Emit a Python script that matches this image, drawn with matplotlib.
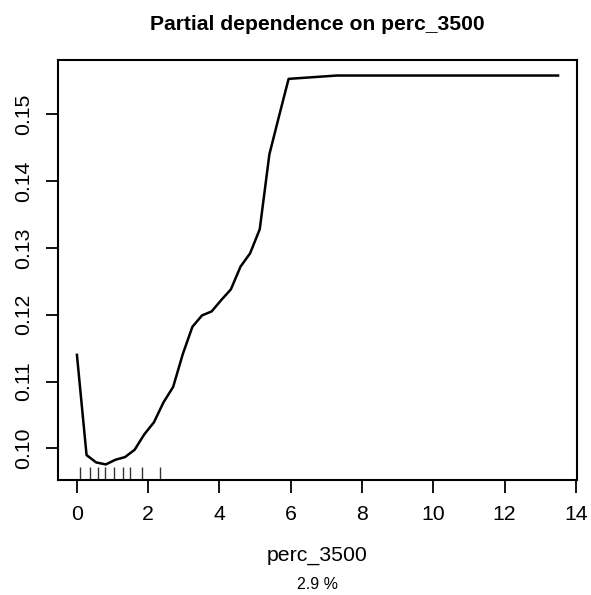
import matplotlib
matplotlib.use("Agg")
import matplotlib.pyplot as plt
import numpy as np

plt.rcParams["font.family"] = ["Liberation Sans", "DejaVu Sans"]

# partial dependence grid and values
perc_3500 = [0.00, 0.27, 0.54, 0.81, 1.08, 1.35, 1.62, 1.89, 2.16, 2.43,
             2.70, 2.97, 3.24, 3.51, 3.78, 4.05, 4.32, 4.59, 4.86, 5.13,
             5.40, 5.67, 5.94, 6.21, 6.48, 6.75, 7.02, 7.29, 7.56, 13.50]
pd_value = [0.1140, 0.0990, 0.0979, 0.0976, 0.0983, 0.0987, 0.0998, 0.1021, 0.1039, 0.1069,
            0.1092, 0.1141, 0.1182, 0.1199, 0.1205, 0.1222, 0.1238, 0.1272, 0.1292, 0.1328,
            0.1440, 0.1497, 0.1553, 0.1554, 0.1555, 0.1556, 0.1557, 0.1558, 0.1558, 0.1558]
# deciles of the predictor (rug)
rug_x = [0.10, 0.37, 0.59, 0.80, 1.03, 1.28, 1.49, 1.82, 2.33]

x_ticks = [0, 2, 4, 6, 8, 10, 12, 14]
y_ticks = [0.10, 0.11, 0.12, 0.13, 0.14, 0.15]

fig = plt.figure(figsize=(5.91, 5.95), dpi=100)
ax = fig.add_axes([0.0976, 0.1933, 0.8792, 0.7059])

x = np.asarray(perc_3500)
y = np.asarray(pd_value)
ax.plot(x, y, color="black", linewidth=1.8, solid_joinstyle="round")

ax.vlines(rug_x, 0, 0.03, transform=ax.get_xaxis_transform(),
          color="#333333", linewidth=1.0)

# R-style 4% axis extension
xr = x.max() - x.min()
yr = y.max() - y.min()
ax.set_xlim(x.min() - 0.04 * xr, x.max() + 0.04 * xr)
ax.set_ylim(y.min() - 0.04 * yr, y.max() + 0.04 * yr)

ax.set_xticks(x_ticks)
ax.set_xticklabels([str(t) for t in x_ticks])
ax.set_yticks(y_ticks)
ax.set_yticklabels([f"{t:.2f}" for t in y_ticks], rotation=90, va="center")
ax.tick_params(axis="both", length=9, width=1.3, labelsize=15.3, color="black")
ax.tick_params(axis="x", pad=9)
ax.tick_params(axis="y", pad=9)
for spine in ax.spines.values():
    spine.set_linewidth(1.5)

ax.set_xlabel("perc_3500", fontsize=15.3, labelpad=16)
fig.text(317.5 / 591, (595 - 589) / 595, "2.9 %", fontsize=11.5,
         ha="center", va="baseline")
fig.text(317.5 / 591, (595 - 30.5) / 595, "Partial dependence on perc_3500",
         fontsize=15.2, fontweight="bold", ha="center", va="baseline")

fig.savefig("out.png", dpi=100)
